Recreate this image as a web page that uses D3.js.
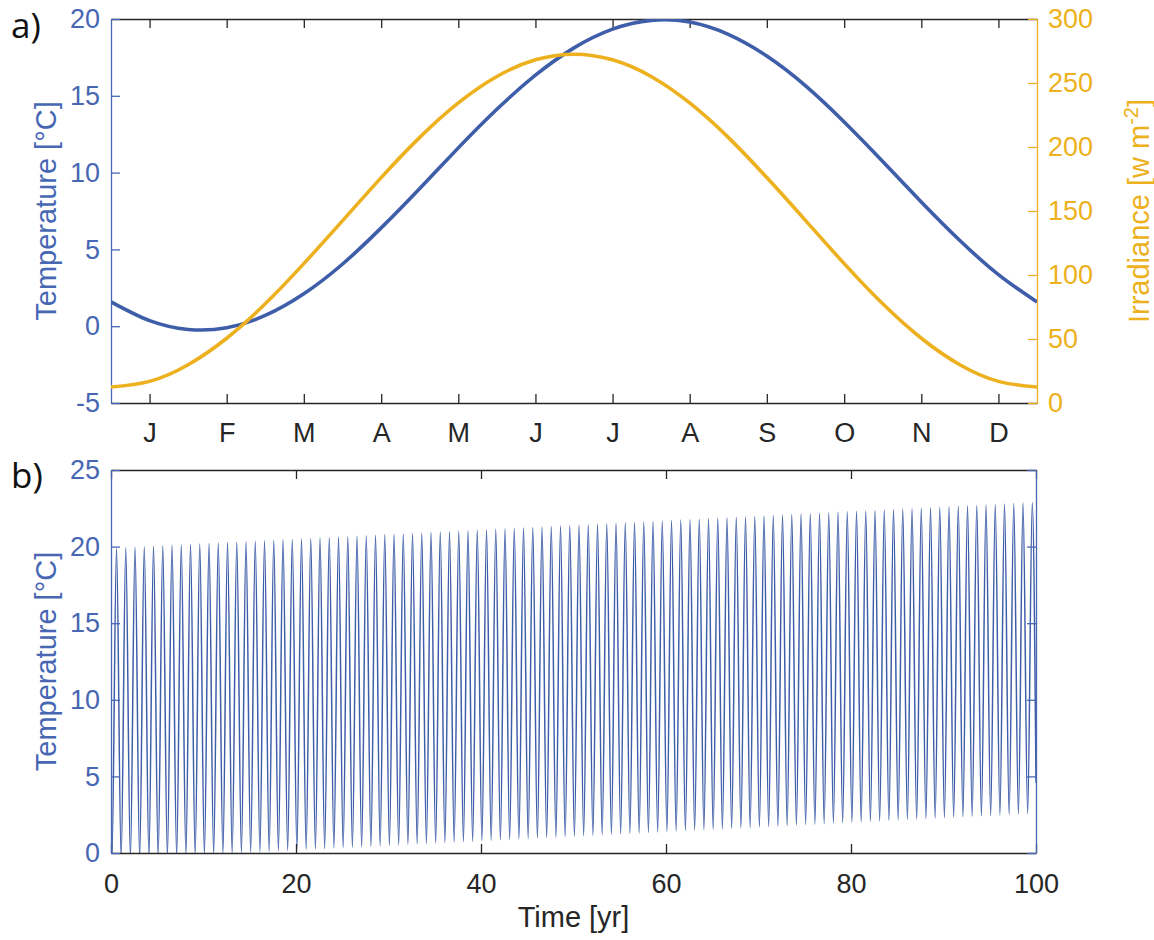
<!DOCTYPE html>
<html>
<head>
<meta charset="utf-8">
<script src="https://cdn.jsdelivr.net/npm/d3@7"></script>
<style>
  html, body { margin: 0; padding: 0; background: #fff; }
  svg { display: block; font-family: "Liberation Sans", Arial, sans-serif; }
  .panel-tag { font-family: "Open Sans", "Noto Sans", sans-serif; font-size: 35px; fill: #111; }
</style>
</head>
<body>
<svg id="chart" width="1154" height="940"></svg>
<script>
// --- data: panel a, seasonal cycle (semi-monthly samples, day of year) ---
const sampleDays = [0, 15.2, 30.4, 45.6, 60.8, 76.0, 91.3, 106.5, 121.7, 136.9, 152.1, 167.3,
  182.5, 197.7, 212.9, 228.1, 243.3, 258.5, 273.8, 289.0, 304.2, 319.4, 334.6, 349.8, 365];
const seasonalTemp = [1.58, 0.36, -0.21, -0.10, 0.70, 2.11, 4.05, 6.40, 8.97, 11.61, 14.12, 16.34,
  18.12, 19.34, 19.91, 19.80, 19.00, 17.59, 15.65, 13.30, 10.73, 8.09, 5.58, 3.36, 1.58];
const irradiance = [12.5, 16.9, 29.9, 50.6, 77.5, 108.9, 142.5, 176.1, 207.5, 234.4, 255.1, 268.1,
  272.5, 268.1, 255.1, 234.4, 207.5, 176.1, 142.5, 108.9, 77.5, 50.6, 29.9, 16.9, 12.5];
const monthLabels = ['J', 'F', 'M', 'A', 'M', 'J', 'J', 'A', 'S', 'O', 'N', 'D'];
const monthTickDays = [15.2, 45.6, 76.0, 106.5, 136.9, 167.3, 197.7, 228.1, 258.5, 289.0, 319.4, 349.8];
const tempTicksA = [-5, 0, 5, 10, 15, 20];
const irrTicks = [0, 50, 100, 150, 200, 250, 300];

// --- data: panel b, 100-year run (yearly trough / peak) ---
const troughPhase = 0.097;   // fraction of the year at the minimum
const peakPhase = 0.597;     // fraction of the year at the maximum
const runStart = 1.58, runEnd = 4.58;
const yearlyPeaks = [
  19.90,19.93,19.96,19.99,20.02,20.05,20.08,20.11,20.14,20.17,
  20.20,20.23,20.26,20.29,20.32,20.35,20.38,20.41,20.44,20.47,
  20.50,20.53,20.56,20.59,20.62,20.65,20.68,20.71,20.74,20.77,
  20.80,20.83,20.86,20.89,20.92,20.95,20.98,21.01,21.04,21.07,
  21.10,21.13,21.16,21.19,21.22,21.25,21.28,21.31,21.34,21.37,
  21.40,21.43,21.46,21.49,21.52,21.55,21.58,21.61,21.64,21.67,
  21.70,21.73,21.76,21.79,21.82,21.85,21.88,21.91,21.94,21.97,
  22.00,22.03,22.06,22.09,22.12,22.15,22.18,22.21,22.24,22.27,
  22.30,22.33,22.36,22.39,22.42,22.45,22.48,22.51,22.54,22.57,
  22.60,22.63,22.66,22.69,22.72,22.75,22.78,22.81,22.84,22.87];
const yearlyTroughs = [
  -0.40,-0.37,-0.34,-0.31,-0.28,-0.25,-0.22,-0.19,-0.16,-0.13,
  -0.10,-0.07,-0.04,-0.01,0.02,0.05,0.08,0.11,0.14,0.17,
  0.20,0.23,0.26,0.29,0.32,0.35,0.38,0.41,0.44,0.47,
  0.50,0.53,0.56,0.59,0.62,0.65,0.68,0.71,0.74,0.77,
  0.80,0.83,0.86,0.89,0.92,0.95,0.98,1.01,1.04,1.07,
  1.10,1.13,1.16,1.19,1.22,1.25,1.28,1.31,1.34,1.37,
  1.40,1.43,1.46,1.49,1.52,1.55,1.58,1.61,1.64,1.67,
  1.70,1.73,1.76,1.79,1.82,1.85,1.88,1.91,1.94,1.97,
  2.00,2.03,2.06,2.09,2.12,2.15,2.18,2.21,2.24,2.27,
  2.30,2.33,2.36,2.39,2.42,2.45,2.48,2.51,2.54,2.57];
const yearTicks = [0, 20, 40, 60, 80, 100];
const tempTicksB = [0, 5, 10, 15, 20, 25];

// --- styling ---
const BLUE = '#3f5ea9', AXBLUE = '#4767b3', ORANGE = '#edb120', DARK = '#262626';
const TICK_FS = 27, LABEL_FS = 29, TICK = 9;
const plainNum = d => String(d);   // plain hyphen for negatives, like the original

const svg = d3.select('#chart');

function styleAxis(g, color) {
  g.selectAll('path.domain').attr('stroke', color).attr('stroke-width', 1.3);
  g.selectAll('.tick line').attr('stroke', color).attr('stroke-width', 1.3);
  g.selectAll('.tick text').attr('fill', color).attr('font-size', TICK_FS)
    .attr('font-family', '"Liberation Sans", Arial, sans-serif');
}

// ================= panel a =================
const A = { left: 111, right: 1037, top: 19, bottom: 403 };
const xA = d3.scaleLinear().domain([0, 365]).range([A.left, A.right]);
const yA = d3.scaleLinear().domain([-5, 20]).range([A.bottom, A.top]);
const yIrr = d3.scaleLinear().domain([0, 300]).range([A.bottom, A.top]);

svg.append('clipPath').attr('id', 'clipA').append('rect')
  .attr('x', A.left).attr('y', A.top).attr('width', A.right - A.left).attr('height', A.bottom - A.top);

const gA = svg.append('g');

gA.append('g').attr('transform', `translate(0,${A.top})`)
  .call(d3.axisTop(xA).tickValues(monthTickDays).tickFormat('').tickSize(-TICK).tickSizeOuter(0))
  .call(g => styleAxis(g, DARK));
gA.append('g').attr('transform', `translate(0,${A.bottom})`)
  .call(d3.axisBottom(xA).tickValues(monthTickDays).tickFormat((d, i) => monthLabels[i])
    .tickSize(-TICK).tickSizeOuter(0).tickPadding(20))
  .call(g => styleAxis(g, DARK));
gA.append('g').attr('transform', `translate(${A.left},0)`)
  .call(d3.axisLeft(yA).tickValues(tempTicksA).tickFormat(plainNum)
    .tickSize(-TICK).tickSizeOuter(0).tickPadding(11))
  .call(g => styleAxis(g, AXBLUE));
gA.append('g').attr('transform', `translate(${A.right},0)`)
  .call(d3.axisRight(yIrr).tickValues(irrTicks).tickFormat(plainNum)
    .tickSize(-TICK).tickSizeOuter(0).tickPadding(11))
  .call(g => styleAxis(g, ORANGE));

const lineTemp = d3.line().x((d, i) => xA(sampleDays[i])).y(d => yA(d)).curve(d3.curveNatural);
const lineIrr = d3.line().x((d, i) => xA(sampleDays[i])).y(d => yIrr(d)).curve(d3.curveNatural);

gA.append('path').datum(seasonalTemp).attr('clip-path', 'url(#clipA)')
  .attr('d', lineTemp).attr('fill', 'none').attr('stroke', BLUE).attr('stroke-width', 3.6);
gA.append('path').datum(irradiance).attr('clip-path', 'url(#clipA)')
  .attr('d', lineIrr).attr('fill', 'none').attr('stroke', ORANGE).attr('stroke-width', 3.6);

gA.append('text').attr('transform', `translate(56,${(A.top + A.bottom) / 2}) rotate(-90)`)
  .attr('text-anchor', 'middle').attr('font-size', LABEL_FS).attr('fill', AXBLUE)
  .text('Temperature [°C]');

const irrLabel = gA.append('text').attr('transform', `translate(1149,${(A.top + A.bottom) / 2}) rotate(-90)`)
  .attr('text-anchor', 'middle').attr('font-size', LABEL_FS).attr('fill', ORANGE);
irrLabel.append('tspan').text('Irradiance [w m');
irrLabel.append('tspan').attr('dy', -11).attr('font-size', 20).text('-2');
irrLabel.append('tspan').attr('dy', 11).text(']');

svg.append('text').attr('class', 'panel-tag').attr('x', 11).attr('y', 38).text('a)');

// ================= panel b =================
const B = { left: 111, right: 1036, top: 470, bottom: 853 };
const xB = d3.scaleLinear().domain([0, 100]).range([B.left, B.right]);
const yB = d3.scaleLinear().domain([0, 25]).range([B.bottom, B.top]);

svg.append('clipPath').attr('id', 'clipB').append('rect')
  .attr('x', B.left).attr('y', B.top).attr('width', B.right - B.left).attr('height', B.bottom - B.top);

const gB = svg.append('g');

// trough/peak sequence for the run
const runPoints = [{ t: 0, v: runStart }];
yearlyPeaks.forEach((p, i) => {
  runPoints.push({ t: i + troughPhase, v: yearlyTroughs[i] });
  runPoints.push({ t: i + peakPhase, v: p });
});
runPoints.push({ t: 100, v: runEnd });

gB.append('path').datum(runPoints).attr('clip-path', 'url(#clipB)')
  .attr('d', d3.line().x(d => xB(d.t)).y(d => yB(d.v)).curve(d3.curveMonotoneX))
  .attr('fill', 'none').attr('stroke', BLUE).attr('stroke-width', 1.5);

gB.append('g').attr('transform', `translate(0,${B.top})`)
  .call(d3.axisTop(xB).tickValues(yearTicks).tickFormat('').tickSize(-TICK).tickSizeOuter(0))
  .call(g => styleAxis(g, DARK));
gB.append('g').attr('transform', `translate(0,${B.bottom})`)
  .call(d3.axisBottom(xB).tickValues(yearTicks).tickSize(-TICK).tickSizeOuter(0).tickPadding(21))
  .call(g => styleAxis(g, DARK));
gB.append('g').attr('transform', `translate(${B.left},0)`)
  .call(d3.axisLeft(yB).tickValues(tempTicksB).tickSize(-TICK).tickSizeOuter(0).tickPadding(11))
  .call(g => styleAxis(g, AXBLUE));
gB.append('g').attr('transform', `translate(${B.right},0)`)
  .call(d3.axisRight(yB).tickValues(tempTicksB).tickFormat('').tickSize(-TICK).tickSizeOuter(0))
  .call(g => styleAxis(g, AXBLUE));

gB.append('text').attr('transform', `translate(56,${(B.top + B.bottom) / 2}) rotate(-90)`)
  .attr('text-anchor', 'middle').attr('font-size', LABEL_FS).attr('fill', AXBLUE)
  .text('Temperature [°C]');
gB.append('text').attr('x', (B.left + B.right) / 2).attr('y', 927)
  .attr('text-anchor', 'middle').attr('font-size', LABEL_FS).attr('fill', DARK)
  .text('Time [yr]');

svg.append('text').attr('class', 'panel-tag').attr('x', 11).attr('y', 488).text('b)');
</script>
</body>
</html>
